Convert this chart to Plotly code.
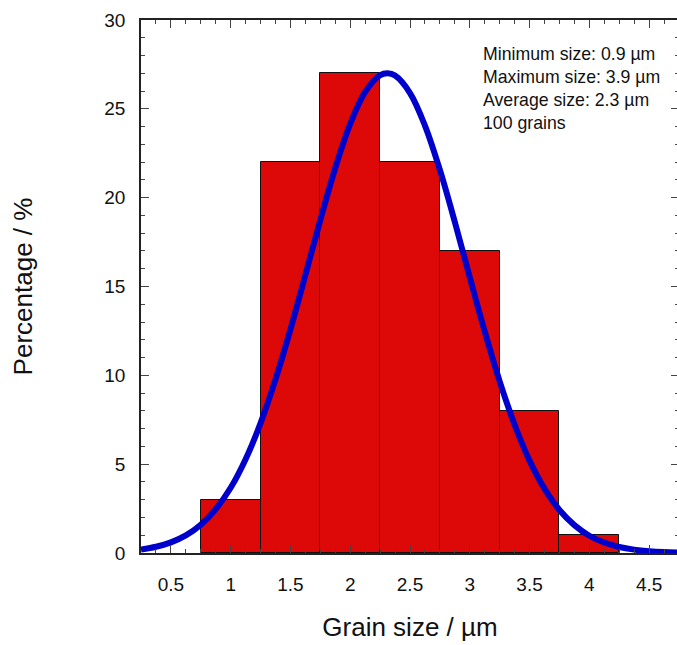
import plotly.graph_objects as go

# Histogram data (bin centers, bin width 0.5)
bin_centers = [1.0, 1.5, 2.0, 2.5, 3.0, 3.5, 4.0]
percentages = [3, 22, 27, 22, 17, 8, 1]
bin_width = 0.5

# Fitted distribution curve
curve_x = [0.25, 0.375, 0.5, 0.625, 0.75, 0.875, 1.0, 1.125, 1.25, 1.375, 1.5,
           1.625, 1.75, 1.875, 2.0, 2.125, 2.25, 2.3125, 2.375, 2.5, 2.625, 2.75,
           2.875, 3.0, 3.125, 3.25, 3.375, 3.5, 3.625, 3.75, 3.875, 4.0, 4.125,
           4.25, 4.375, 4.5, 4.625, 4.75]
curve_y = [0.19, 0.35, 0.60, 0.99, 1.59, 2.47, 3.67, 5.28, 7.31, 9.77, 12.59,
           15.65, 18.75, 21.67, 24.15, 25.95, 26.89, 27.0, 26.87, 25.89, 24.06, 21.56,
           18.63, 15.52, 12.47, 9.66, 7.22, 5.20, 3.62, 2.42, 1.57, 0.97, 0.59,
           0.34, 0.19, 0.10, 0.05, 0.03]

x_ticks = [0.5, 1, 1.5, 2, 2.5, 3, 3.5, 4, 4.5]
x_ticktext = ["0.5", "1", "1.5", "2", "2.5", "3", "3.5", "4", "4.5"]
y_ticks = [0, 5, 10, 15, 20, 25, 30]

info_lines = ["Minimum size: 0.9 µm", "Maximum size: 3.9 µm",
              "Average size: 2.3 µm", "100 grains"]

FONT = "Liberation Sans, Arial, sans-serif"

fig = go.Figure()
fig.add_trace(go.Bar(
    x=bin_centers, y=percentages, width=[bin_width] * len(bin_centers),
    marker=dict(color="#DD0808", line=dict(color="#111111", width=1)),
    showlegend=False, hoverinfo="x+y"))
fig.add_trace(go.Scatter(
    x=curve_x, y=curve_y, mode="lines",
    line=dict(color="#0000CC", width=6, shape="spline", smoothing=1.0),
    showlegend=False))

axis_common = dict(
    showline=True, linecolor="#222222", linewidth=1.5, mirror="allticks",
    ticks="inside", ticklen=8, tickwidth=1, tickcolor="#444444",
    showgrid=False, zeroline=False, automargin=False,
    tickfont=dict(family=FONT, size=19, color="#111111"),
)

fig.update_layout(
    width=679, height=645, autosize=False,
    margin=dict(l=141, r=0, t=20, b=92, pad=0),
    plot_bgcolor="white", paper_bgcolor="white",
    bargap=0,
    font=dict(family=FONT, color="#111111"),
    xaxis=dict(
        range=[0.25, 4.75], tickvals=x_ticks, ticktext=x_ticktext,
        minor=dict(dtick=0.125, tick0=0, ticks="inside", ticklen=4,
                   tickcolor="#444444", showgrid=False),
        ticklabelstandoff=13,
        title=dict(text="Grain size / µm", font=dict(family=FONT, size=26),
                   standoff=24),
        **axis_common),
    yaxis=dict(
        range=[0, 30], tickvals=y_ticks,
        minor=dict(dtick=1, tick0=0, ticks="inside", ticklen=4,
                   tickcolor="#444444", showgrid=False),
        ticklabelstandoff=10,
        title=dict(text="Percentage / %", font=dict(family=FONT, size=26),
                   standoff=64),
        **axis_common),
    annotations=[dict(
        xref="paper", yref="paper", x=(481 - 141) / 538, y=0.958,
        xanchor="left", yanchor="top", align="left", showarrow=False,
        text="<br>".join(info_lines),
        font=dict(family=FONT, size=17.7, color="#111111"))],
)

fig.write_html(
    "out.html",
    config={"displayModeBar": False, "responsive": False},
    post_script=("document.body.style.margin='0';"
                 "document.documentElement.style.overflow='hidden';"),
)
